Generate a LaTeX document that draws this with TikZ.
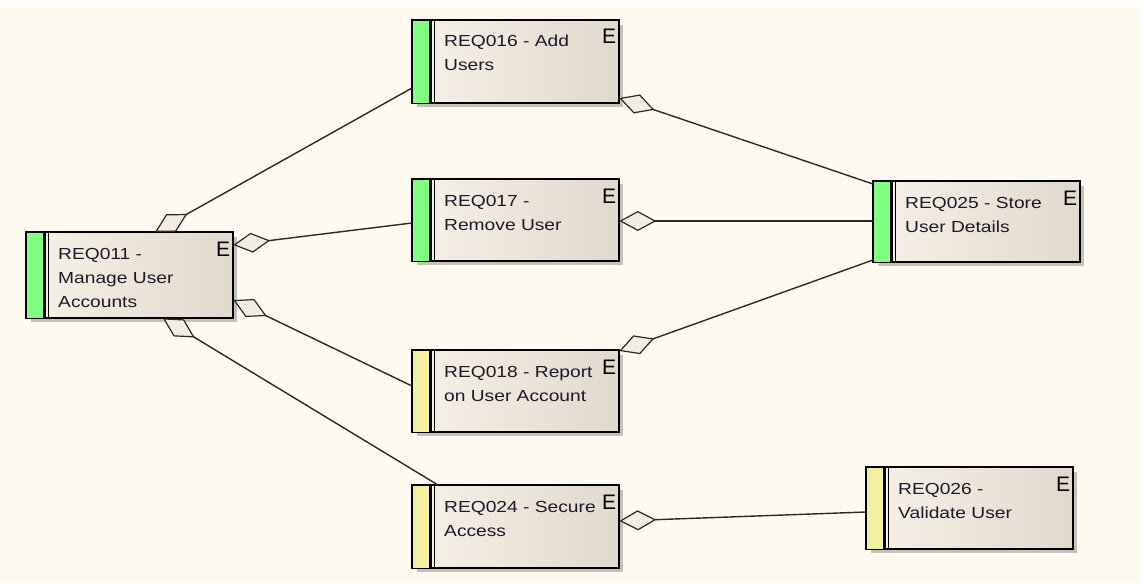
\documentclass[tikz,border=0pt]{standalone}
\usepackage{fontspec}
\setmainfont{Liberation Sans}
\newfontfamily\reqfont[FakeStretch=1.2]{Liberation Sans}
\usetikzlibrary{arrows.meta}
\definecolor{bgc}{HTML}{FFFAEF}
\definecolor{boxL}{HTML}{F8F1E7}
\definecolor{boxR}{HTML}{E2D9CD}
\definecolor{shadc}{HTML}{C4C0BA}
\definecolor{greenbar}{HTML}{80FF80}
\definecolor{yellowbar}{HTML}{F3F0A2}
\definecolor{linec}{HTML}{2E2828}
\definecolor{diamc}{HTML}{F3ECE2}
\definecolor{txtc}{HTML}{1A1A28}
\tikzset{
  reqbox/.style={rectangle, draw=black, line width=1.3pt, minimum width=206pt,
    anchor=north west, inner sep=0pt, left color=boxL, right color=boxR},
  reqtext/.style={anchor=base west, inner sep=0pt, font=\reqfont\fontsize{16pt}{24pt}\selectfont, text=txtc},
  etext/.style={anchor=base east, inner sep=0pt, font=\fontsize{21pt}{24pt}\selectfont, text=black},
  conn/.style={draw=linec, line width=1.4pt,
    {Diamond[fill=diamc, length=37pt, width=20pt, line width=1.2pt]}-},
}
\newcommand\reqnode[7]{% name, x, y, height, bar colour, line1, line2
  \fill[shadc] (#2+5,#3+5) rectangle (#2+211,#3+#4+5);
  \node[reqbox, minimum height=#4pt] (#1) at (#2,#3) {};
  \fill[#5] (#1.north west) rectangle ([xshift=17pt]#1.south west);
  \fill[black] ([xshift=17pt]#1.north west) rectangle ([xshift=20pt]#1.south west);
  \draw[black, line width=0.9pt] ([xshift=22.5pt]#1.north west) -- ([xshift=22.5pt]#1.south west);
  \draw[black, line width=1.3pt] (#1.north west) rectangle (#1.south east);
  \node[reqtext] (#1-a) at ([xshift=32pt,yshift=-27pt]#1.north west) {#6};
  \node[reqtext] (#1-b) at ([xshift=32pt,yshift=-51pt]#1.north west) {#7};
  \node[etext] (#1-e) at ([xshift=-3pt,yshift=-24pt]#1.north east) {E};
}
\begin{document}
\begin{tikzpicture}[x=1pt,y=-1pt]
\useasboundingbox (0,0) rectangle (1142,583);
\fill[white] (0,0) rectangle (1142,583);
\fill[bgc] (0,5) rectangle (1140,583);

\reqnode{r11}{26}{232}{85}{greenbar}{REQ011 -}{Manage User}
\node[reqtext] (r11-c) at ([xshift=32pt,yshift=-75pt]r11.north west) {Accounts};
\reqnode{r16}{412}{20}{82}{greenbar}{REQ016 - Add}{Users}
\reqnode{r17}{412}{179}{81}{greenbar}{REQ017 -}{Remove User}
\reqnode{r18}{412}{350}{81}{yellowbar}{REQ018 - Report}{on User Account}
\reqnode{r24}{412}{485}{82}{yellowbar}{REQ024 - Secure}{Access}
\reqnode{r25}{873}{181}{80}{greenbar}{REQ025 - Store}{User Details}
\reqnode{r26}{866}{467}{81}{yellowbar}{REQ026 -}{Validate User}

\draw[conn] ([xshift=129pt]r11.north west) -- ([yshift=-68pt]r16.north west);
\draw[conn] ([yshift=-13pt]r11.north east) -- ([yshift=-44pt]r17.north west);
\draw[conn] ([yshift=-68pt]r11.north east) -- ([yshift=-36pt]r18.north west);
\draw[conn] ([xshift=137pt]r11.south west) -- ([xshift=26pt]r24.north west);
\draw[conn] ([yshift=-78pt]r16.north east) -- ([yshift=-3pt]r25.north west);
\draw[conn] ([yshift=-42pt]r17.north east) -- ([yshift=-40pt]r25.north west);
\draw[conn] ([yshift=-1pt]r18.north east) -- ([yshift=-79pt]r25.north west);
\draw[conn] ([yshift=-36pt]r24.north east) -- ([yshift=-45pt]r26.north west);
\end{tikzpicture}
\end{document}
